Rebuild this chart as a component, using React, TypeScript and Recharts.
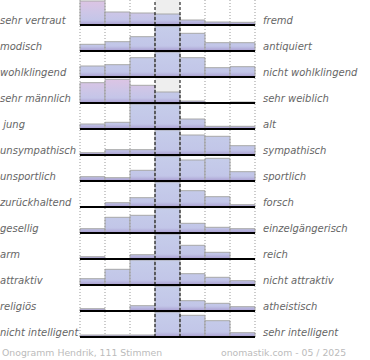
import { BarChart, Bar, Cell, XAxis, YAxis, ReferenceLine, ReferenceArea } from 'recharts'

const steps = ['1', '2', '3', '4', '5', '6', '7']

const leftLabels = [
  'sehr vertraut', 'modisch', 'wohlklingend', 'sehr männlich', ' jung', 'unsympathisch', 'unsportlich',
  'zurückhaltend', 'gesellig', 'arm', 'attraktiv', 'religiös', 'nicht intelligent',
]
const rightLabels = [
  'fremd', 'antiquiert', 'nicht wohlklingend', 'sehr weiblich', 'alt', 'sympathisch', 'sportlich',
  'forsch', 'einzelgängerisch', 'reich', 'nicht attraktiv', 'atheistisch', 'sehr intelligent',
]

// bar heights per row, 25 = whole row (anything above is cut off)
const heights = [
  [24, 13, 12, 11, 5, 3, 2.7],
  [6.7, 9.3, 14.3, 25, 17.7, 8.3, 8.3],
  [11, 12.3, 19.3, 25, 19.3, 9.3, 10.3],
  [20.3, 23.7, 17.7, 11, 2, 0, 1],
  [5, 6.7, 25, 25, 10, 2.7, 2.7],
  [2.3, 5.3, 5.3, 25, 20, 18.7, 9.3],
  [4.3, 3.3, 10.7, 25, 21, 22.7, 9.3],
  [0, 4.3, 9.3, 25, 16.3, 10.3, 2.3],
  [4.3, 15.7, 17.7, 25, 9.7, 5.7, 4.3],
  [2.3, 0, 4.3, 25, 13.7, 6.7, 0],
  [6.3, 15.7, 25, 25, 11.3, 7.7, 4.3],
  [2.3, 0, 5.3, 25, 10.3, 7.7, 4.3],
  [2, 2, 2, 25, 21.7, 16.3, 4.3],
]

// rows where the left bars come out pinkish
const tintedRows = [0, 3]

const labelStyle: React.CSSProperties = {
  position: 'absolute',
  top: 15,
  fontSize: 10,
  lineHeight: '12px',
  fontStyle: 'italic',
  color: '#666',
  whiteSpace: 'pre',
  zIndex: 2,
}

const footStyle: React.CSSProperties = {
  position: 'absolute',
  top: 347,
  fontSize: 9.3,
  color: '#bbb',
  whiteSpace: 'pre',
}

function Row({ idx }: { idx: number }) {
  const data = steps.map((s, i) => ({ step: s, v: heights[idx][i] }))
  const blue = `blue${idx}`
  const pink = `pink${idx}`
  return (
    <div style={{ position: 'relative', height: 26 }}>
      <span style={{ ...labelStyle, left: 0 }}>{leftLabels[idx]}</span>
      <span style={{ ...labelStyle, left: 263 }}>{rightLabels[idx]}</span>
      <BarChart
        width={370}
        height={26}
        data={data}
        margin={{ top: 0, right: 115, bottom: 1, left: 80 }}
        barCategoryGap={0}
        barGap={0}
      >
        <defs>
          <linearGradient id={blue} x1="0" y1="0" x2="0" y2="25" gradientUnits="userSpaceOnUse">
            <stop offset="0" stopColor="#c6cdea" />
            <stop offset="0.8" stopColor="#c2c6e8" />
            <stop offset="1" stopColor="#a99dd0" />
          </linearGradient>
          <linearGradient id={pink} x1="0" y1="0" x2="0" y2="25" gradientUnits="userSpaceOnUse">
            <stop offset="0" stopColor="#dec4e4" />
            <stop offset="0.5" stopColor="#cdc6e7" />
            <stop offset="0.8" stopColor="#c4c5e8" />
            <stop offset="1" stopColor="#a99dd0" />
          </linearGradient>
        </defs>
        <XAxis dataKey="step" hide />
        <YAxis hide domain={[0, 25]} allowDataOverflow />
        <ReferenceArea x1="4" x2="4" fill="#eeeeee" fillOpacity={1} stroke="none" />
        <Bar dataKey="v" stroke="#a8a8a8" strokeWidth={1} isAnimationActive={false}>
          {data.map((d, i) => (
            <Cell
              key={d.step}
              fill={tintedRows.includes(idx) && i < 3 ? `url(#${pink})` : `url(#${blue})`}
            />
          ))}
        </Bar>
        {steps.map((s, i) => (
          <ReferenceLine
            key={s}
            x={s}
            position="start"
            stroke={i === 3 || i === 4 ? '#000' : '#999'}
            strokeDasharray={i === 3 || i === 4 ? '3 2' : '1 2'}
            strokeWidth={1}
          />
        ))}
        <ReferenceLine x={steps[6]} position="end" stroke="#999" strokeDasharray="1 2" />
        <ReferenceLine y={0} stroke="#000" strokeWidth={2} />
      </BarChart>
    </div>
  )
}

export default function App() {
  return (
    <div
      style={{
        position: 'absolute',
        left: 0,
        top: 0,
        width: 370,
        height: 360,
        background: '#fff',
        fontFamily: '"DejaVu Sans", sans-serif',
      }}
    >
      {leftLabels.map((_, i) => (
        <Row key={i} idx={i} />
      ))}
      <div style={{ ...footStyle, left: 2 }}>Onogramm Hendrik, 111 Stimmen</div>
      <div style={{ ...footStyle, left: 221 }}>onomastik.com - 05 / 2025</div>
    </div>
  )
}
